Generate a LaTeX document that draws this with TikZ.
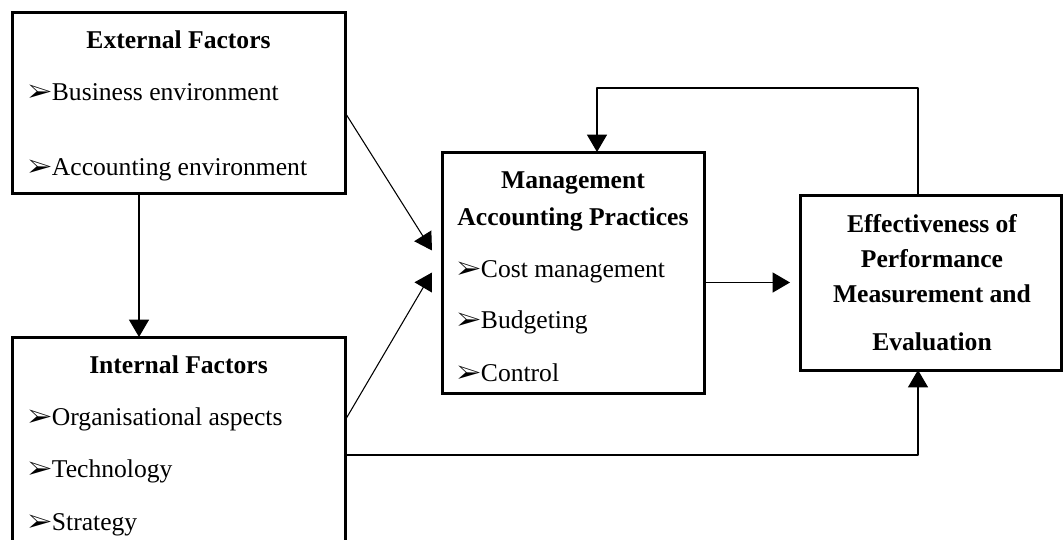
\documentclass[tikz,border=0pt]{standalone}
\usepackage{fontspec}
\setmainfont{Liberation Serif}
\usepackage{pifont}
\usetikzlibrary{arrows.meta,fit,calc}
\begin{document}
\begin{tikzpicture}[x=0.75pt,y=-0.75pt,line cap=round,line join=round]
\clip (0,0) rectangle (1063,539);
\def\sz{\fontsize{19.2}{23}\selectfont}
\def\tip{\ding{226}}
\tikzset{box/.style={draw,line width=2.25pt,inner sep=0pt,outer sep=0pt,line cap=butt,line join=miter},
	head/.style={font=\sz\bfseries,anchor=base,inner sep=0pt},
	item/.style={font=\sz,anchor=base west,inner sep=0pt},
	link/.style={line width=0.8pt,-{Triangle[length=13pt,width=15pt]}}}
% boxes
\node[box,fit={(12,12) (345,193)}] (ext) {};
\node[box,fit={(12,337) (345,580)}] (int) {};
\node[box,fit={(442,152) (704,393)}] (map) {};
\node[box,fit={(800,195) (1061,370)}] (eff) {};
% texts
\node[head] (exth) at (178.5,48) {External Factors};
\foreach \t/\y [count=\i] in {Business environment/100,Accounting environment/175}{\node[item] (ext\i) at (28,\y) {\tip\t};}
\node[head] (inth) at (178.5,373) {Internal Factors};
\foreach \t/\y [count=\i] in {Organisational aspects/425,Technology/477,Strategy/530}{\node[item] (int\i) at (28,\y) {\tip\t};}
\node[head] (maph1) at (573,188) {Management};
\node[head] (maph2) at (573,225) {Accounting Practices};
\foreach \t/\y [count=\i] in {Cost management/277,Budgeting/328,Control/381}{\node[item] (map\i) at (457,\y) {\tip\t};}
\foreach \t/\y [count=\i] in {Effectiveness of/232,Performance/267,Measurement and/302,Evaluation/350}{\node[head] (effh\i) at (932,\y) {\t};}
% connectors
\coordinate (down) at (139,0);
\coordinate (fbl) at (597,88);
\coordinate (fbr) at (918,88);
\coordinate (low) at (918,455);
\draw[link] (ext.south -| down) -- (int.north -| down);
\draw[link] ($(ext.east)+(0,10)$) -- ($(map.west)+(-10,-22)$);
\draw[link] ($(int.east)+(0,-38)$) -- ($(map.west)+(-10,0)$);
\draw[link] (map.east |- eff.west) -- ($(eff.west)+(-10,0)$);
\draw[link] (eff.north -| fbr) -- (fbr) -- (fbl) -- (map.north -| fbl);
\draw[link] (int.east |- low) -- (low) -- (eff.south -| low);
\end{tikzpicture}
\end{document}
